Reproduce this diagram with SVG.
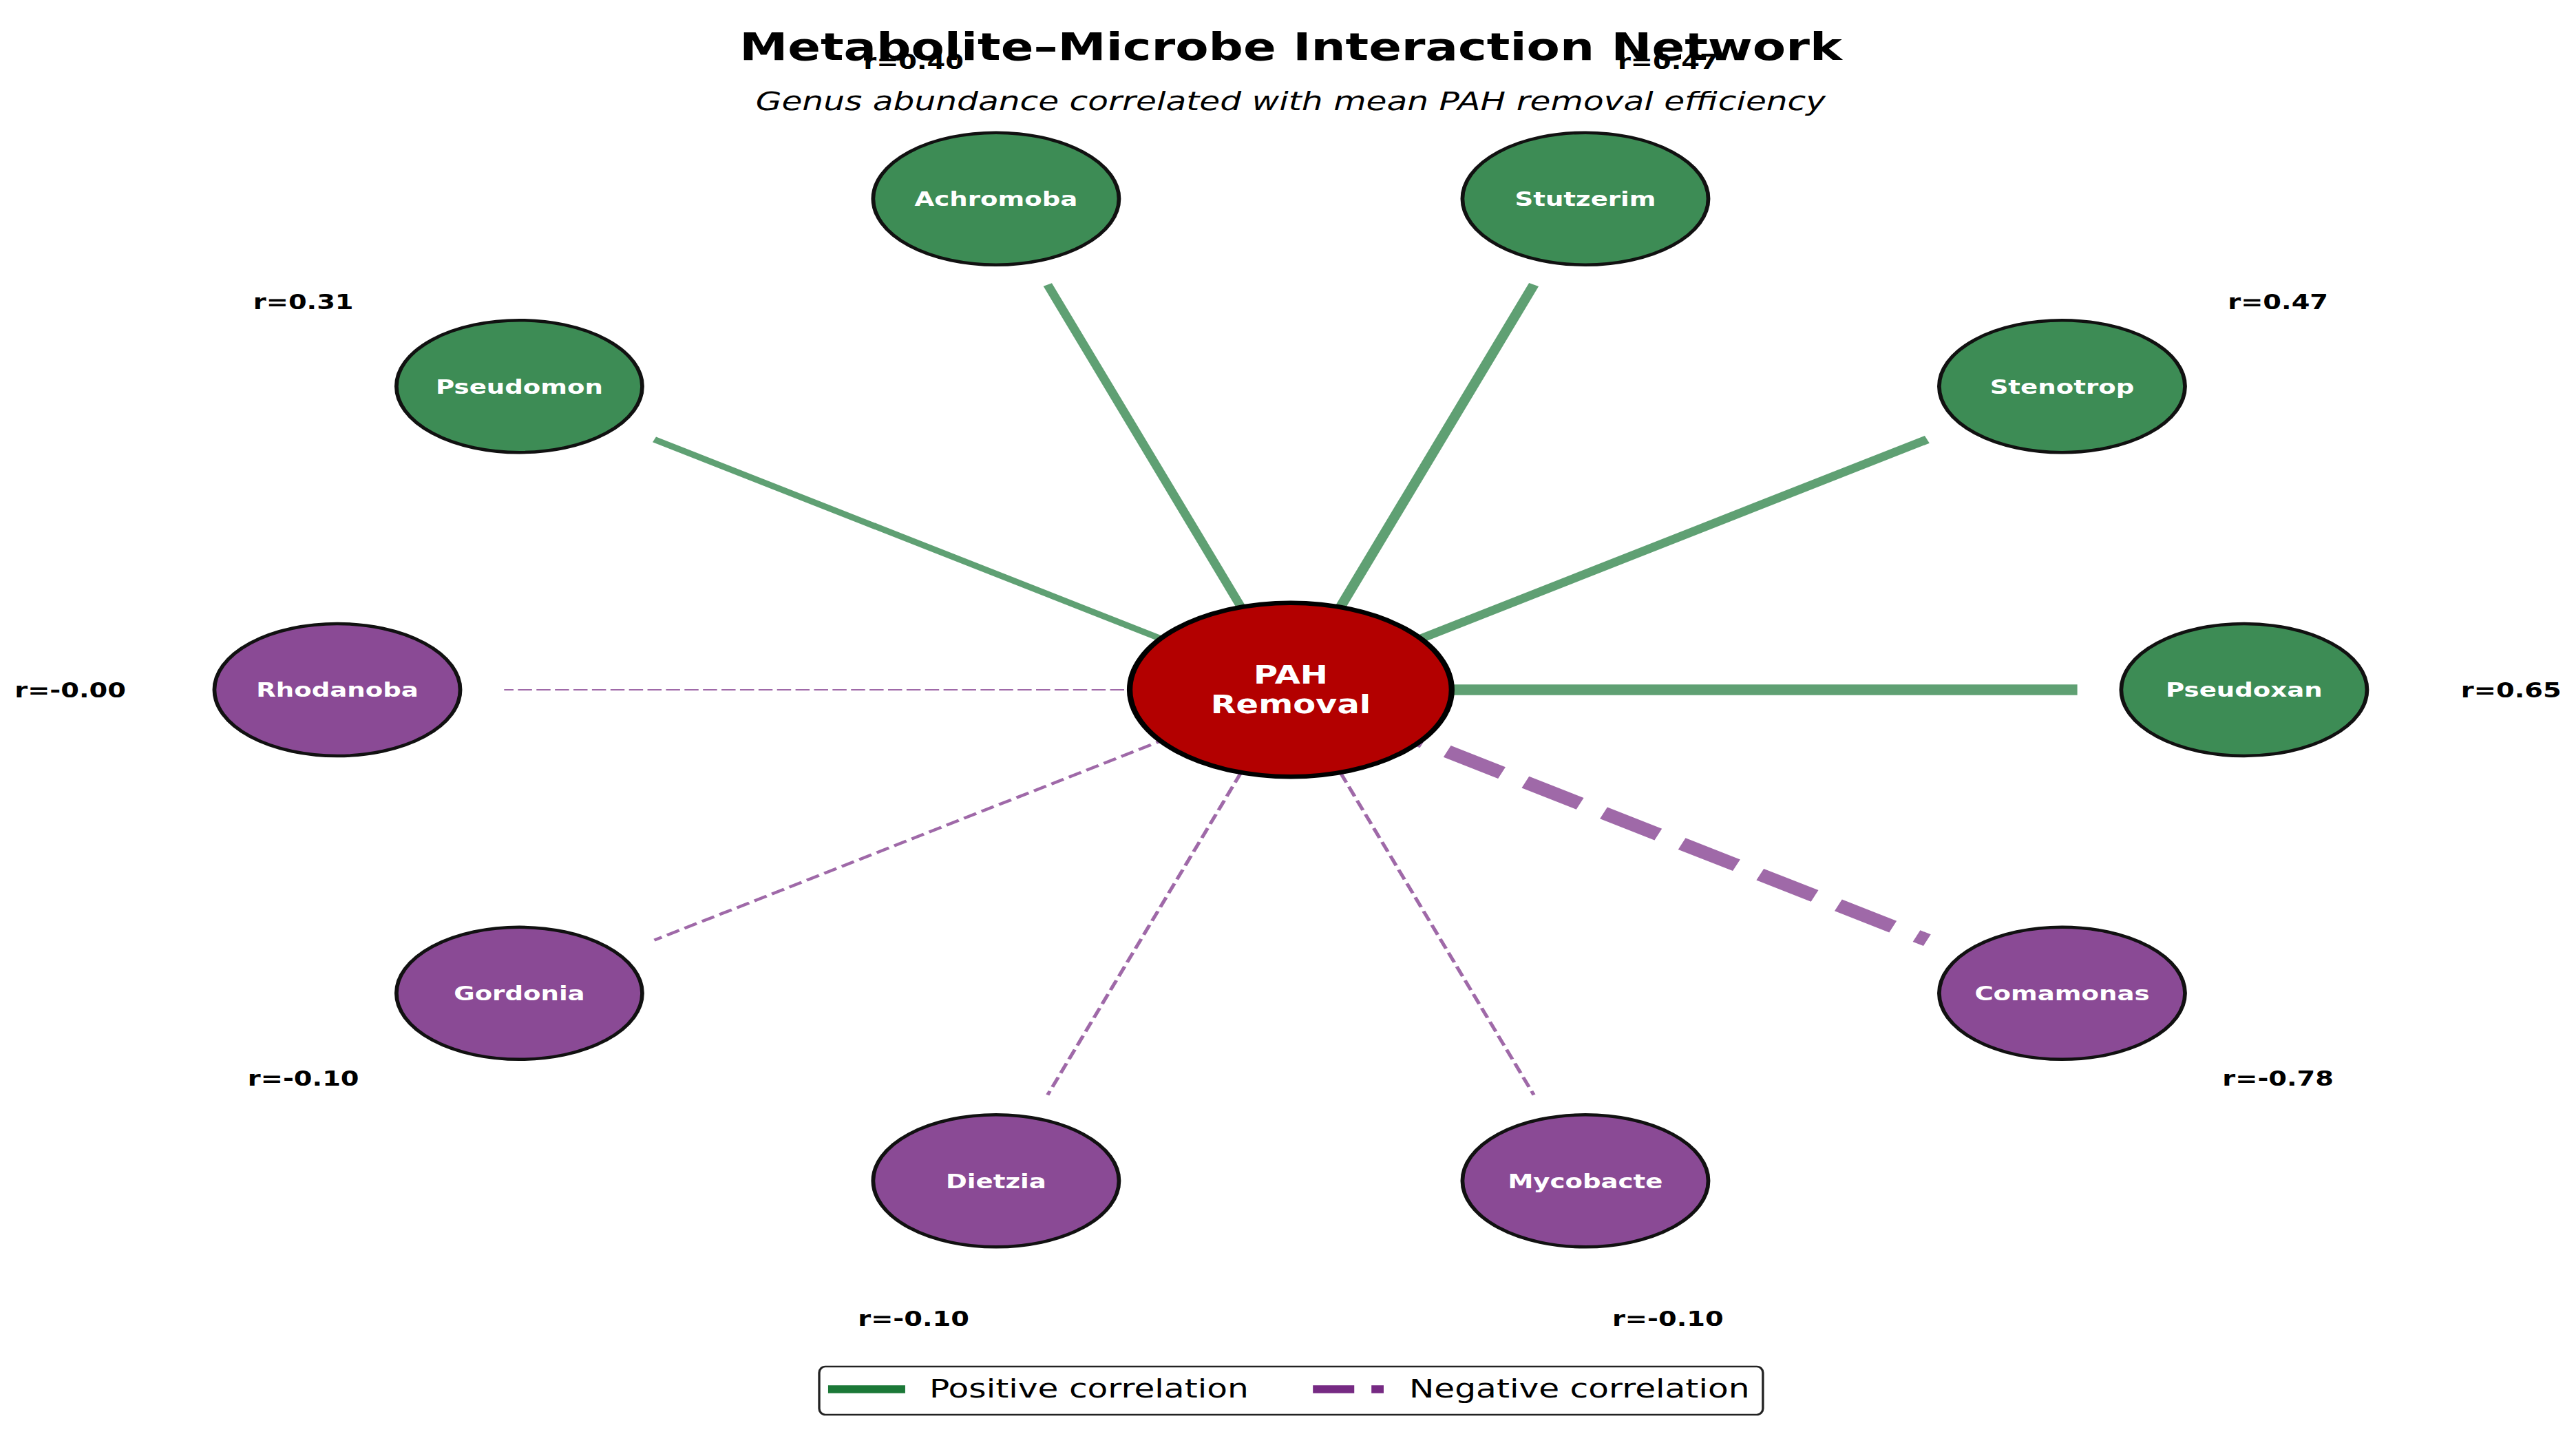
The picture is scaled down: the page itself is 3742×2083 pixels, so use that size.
<svg xmlns="http://www.w3.org/2000/svg" width="3742" height="2083" viewBox="0 0 3742 2083">
<style>
.t{font-family:"DejaVu Sans","Liberation Sans",sans-serif}
.title{font-size:55px;font-weight:bold;fill:#000}
.sub{font-size:38px;font-style:italic;fill:#000}
.nl{font-size:29px;font-weight:bold;fill:#fff}
.cl{font-size:37.5px;font-weight:bold;fill:#fff}
.rl{font-size:30px;font-weight:bold;fill:#000}
.lg{font-size:38px;fill:#000}
.pos{fill:#3d8c55;stroke:#111;stroke-width:4.5}
.neg{fill:#8a4a95;stroke:#111;stroke-width:4.5}
.ep{stroke:#1b7837;stroke-opacity:0.7;fill:none}
.en{stroke:#762a83;stroke-opacity:0.7;fill:none}
</style>
<rect x="0" y="0" width="3742" height="2083" fill="#fff"/>
<g transform="scale(1.28 1)">
  <text class="t title" x="1464.8" y="87" text-anchor="middle">Metabolite–Microbe Interaction Network</text>
  <text class="t sub" x="1464.8" y="160" text-anchor="middle">Genus abundance correlated with mean PAH removal efficiency</text>

  <g id="connectors">
    <line class="ep" x1="1464.8" y1="1002" x2="2357.5" y2="1002" stroke-width="15.5"/>
    <line class="ep" x1="1464.8" y1="1002" x2="2187.0" y2="638.3" stroke-width="12"/>
    <line class="ep" x1="1464.8" y1="1002" x2="1740.7" y2="413.5" stroke-width="12"/>
    <line class="ep" x1="1464.8" y1="1002" x2="1188.9" y2="413.5" stroke-width="10.6"/>
    <line class="ep" x1="1464.8" y1="1002" x2="742.6" y2="638.3" stroke-width="8.7"/>
    <line class="en" x1="1464.8" y1="1002" x2="572.1" y2="1002" stroke-width="2.2" stroke-dasharray="16 5"/>
    <line class="en" x1="1464.8" y1="1002" x2="742.6" y2="1365.7" stroke-width="4.2" stroke-dasharray="15.5 6.7"/>
    <line class="en" x1="1464.8" y1="1002" x2="1188.9" y2="1590.5" stroke-width="4.2" stroke-dasharray="15.5 6.7"/>
    <line class="en" x1="1464.8" y1="1002" x2="1740.7" y2="1590.5" stroke-width="4.2" stroke-dasharray="15.5 6.7"/>
    <line class="en" x1="1464.8" y1="1002" x2="2187.0" y2="1365.7" stroke-width="18.7" stroke-dasharray="69.4 30"/>
  </g>

  <g id="node-pah">
    <ellipse cx="1464.8" cy="1002" rx="182.7" ry="126.2" fill="#b30000" stroke="#000" stroke-width="6.5"/>
    <text class="t cl" x="1464.8" y="993" text-anchor="middle">PAH</text>
    <text class="t cl" x="1464.8" y="1036" text-anchor="middle">Removal</text>
  </g>
  <g id="node-pseudoxan">
    <ellipse class="pos" cx="2546.8" cy="1002" rx="139.5" ry="96"/>
    <text class="t nl" x="2546.8" y="1012.5" text-anchor="middle">Pseudoxan</text>
  </g>
  <g id="node-stenotrop">
    <ellipse class="pos" cx="2340.2" cy="561.2" rx="139.5" ry="96"/>
    <text class="t nl" x="2340.2" y="571.7" text-anchor="middle">Stenotrop</text>
  </g>
  <g id="node-stutzerim">
    <ellipse class="pos" cx="1799.2" cy="288.7" rx="139.5" ry="96"/>
    <text class="t nl" x="1799.2" y="299.2" text-anchor="middle">Stutzerim</text>
  </g>
  <g id="node-achromoba">
    <ellipse class="pos" cx="1130.4" cy="288.7" rx="139.5" ry="96"/>
    <text class="t nl" x="1130.4" y="299.2" text-anchor="middle">Achromoba</text>
  </g>
  <g id="node-pseudomon">
    <ellipse class="pos" cx="589.4" cy="561.2" rx="139.5" ry="96"/>
    <text class="t nl" x="589.4" y="571.7" text-anchor="middle">Pseudomon</text>
  </g>
  <g id="node-rhodanoba">
    <ellipse class="neg" cx="382.8" cy="1002" rx="139.5" ry="96"/>
    <text class="t nl" x="382.8" y="1012.5" text-anchor="middle">Rhodanoba</text>
  </g>
  <g id="node-gordonia">
    <ellipse class="neg" cx="589.4" cy="1442.8" rx="139.5" ry="96"/>
    <text class="t nl" x="589.4" y="1453.3" text-anchor="middle">Gordonia</text>
  </g>
  <g id="node-dietzia">
    <ellipse class="neg" cx="1130.4" cy="1715.3" rx="139.5" ry="96"/>
    <text class="t nl" x="1130.4" y="1725.8" text-anchor="middle">Dietzia</text>
  </g>
  <g id="node-mycobacte">
    <ellipse class="neg" cx="1799.2" cy="1715.3" rx="139.5" ry="96"/>
    <text class="t nl" x="1799.2" y="1725.8" text-anchor="middle">Mycobacte</text>
  </g>
  <g id="node-comamonas">
    <ellipse class="neg" cx="2340.2" cy="1442.8" rx="139.5" ry="96"/>
    <text class="t nl" x="2340.2" y="1453.3" text-anchor="middle">Comamonas</text>
  </g>

  <g id="r-labels">
    <text class="t rl" x="2849.8" y="1013" text-anchor="middle">r=0.65</text>
    <text class="t rl" x="2585.3" y="448.7" text-anchor="middle">r=0.47</text>
    <text class="t rl" x="1892.8" y="100" text-anchor="middle">r=0.47</text>
    <text class="t rl" x="1036.8" y="100" text-anchor="middle">r=0.40</text>
    <text class="t rl" x="344.3" y="448.7" text-anchor="middle">r=0.31</text>
    <text class="t rl" x="79.8" y="1013" text-anchor="middle">r=-0.00</text>
    <text class="t rl" x="344.3" y="1577.3" text-anchor="middle">r=-0.10</text>
    <text class="t rl" x="1036.8" y="1926" text-anchor="middle">r=-0.10</text>
    <text class="t rl" x="1892.8" y="1926" text-anchor="middle">r=-0.10</text>
    <text class="t rl" x="2585.3" y="1577.3" text-anchor="middle">r=-0.78</text>
  </g>

  <g id="legend">
    <rect x="929.7" y="1985" width="1071" height="70" rx="7" ry="9" fill="#fff" stroke="#222" stroke-width="2.6"/>
    <line x1="939.8" y1="2018" x2="1027.3" y2="2018" stroke="#1b7837" stroke-width="11.5"/>
    <text class="t lg" x="1054.7" y="2030">Positive correlation</text>
    <line x1="1490" y1="2018" x2="1570.3" y2="2018" stroke="#762a83" stroke-width="11.5" stroke-dasharray="46.9 19.5"/>
    <text class="t lg" x="1599.2" y="2030">Negative correlation</text>
  </g>
</g>
</svg>
